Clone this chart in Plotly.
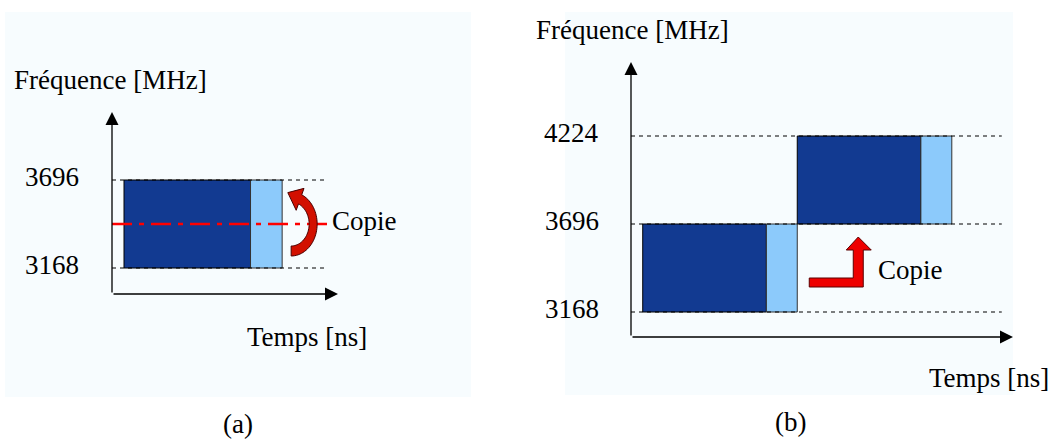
import math
import plotly.graph_objects as go

W, H = 1053, 440

# ---------------- data ----------------
freq_a = [3168, 3696]            # band of panel (a)
freq_b = [3168, 3696, 4224]      # bands of panel (b)
tick_a = ["3168", "3696"]
tick_b = ["3168", "3696", "4224"]
symbol_ns = 242.4                # OFDM symbol (dark block)
copy_ns = 60.6                   # copied part (light block)
start_ns = 23.0                  # start of first symbol
n_symbols_b = 2
y_title = "Fréquence [MHz]"
x_title = "Temps [ns]"
copy_label = "Copie"
panel_labels = ["(a)", "(b)"]

# ---------------- layout geometry ----------------
xr_a, yr_a = [0, 433], [3012, 4104]
xr_b, yr_b = [0, 749], [3018, 4668]
dom_xa, dom_ya = [112 / W, 338 / W], [1 - 294 / H, 1 - 112 / H]
dom_xb, dom_yb = [631 / W, 1013 / W], [1 - 337 / H, 1 - 62 / H]
dash_end_a, dash_end_b = 412, 727

DARK = "#123a91"
LIGHT = "#8ccafb"
BG = "#f7fcfe"
FONT = dict(family="Liberation Serif", size=27, color="#000000")


def d2p(x, y, dx, dy, xr, yr):
    px = (dx[0] + (x - xr[0]) / (xr[1] - xr[0]) * (dx[1] - dx[0])) * W
    py = (1 - (dy[0] + (y - yr[0]) / (yr[1] - yr[0]) * (dy[1] - dy[0]))) * H
    return px, py


def p2d(px, py, dx, dy, xr, yr):
    x = xr[0] + ((px / W) - dx[0]) / (dx[1] - dx[0]) * (xr[1] - xr[0])
    y = yr[0] + ((1 - py / H) - dy[0]) / (dy[1] - dy[0]) * (yr[1] - yr[0])
    return x, y


fig = go.Figure()
shapes = []
annotations = []

# panel backgrounds
for x0, x1, y0, y1 in [(5, 471, 12, 397), (565, 1013, 12, 395)]:
    shapes.append(dict(type="rect", xref="paper", yref="paper", layer="below",
                       x0=x0 / W, x1=x1 / W, y0=1 - y1 / H, y1=1 - y0 / H,
                       fillcolor=BG, line=dict(width=0)))

# ---------------- panel (a) ----------------
for f in freq_a:
    fig.add_trace(go.Scatter(x=[0, dash_end_a], y=[f, f], mode="lines", xaxis="x", yaxis="y",
                             line=dict(color="black", width=1, dash="4px,4px"),
                             hoverinfo="skip", showlegend=False))
x0 = start_ns
shapes.append(dict(type="rect", xref="x", yref="y", layer="below", x0=x0, x1=x0 + symbol_ns,
                   y0=freq_a[0], y1=freq_a[1], fillcolor=DARK, line=dict(color="black", width=1)))
shapes.append(dict(type="rect", xref="x", yref="y", layer="below", x0=x0 + symbol_ns,
                   x1=x0 + symbol_ns + copy_ns,
                   y0=freq_a[0], y1=freq_a[1], fillcolor=LIGHT, line=dict(color="#333333", width=1)))
fmid = (freq_a[0] + freq_a[1]) / 2
fig.add_trace(go.Scatter(x=[0, dash_end_a], y=[fmid, fmid], mode="lines", xaxis="x", yaxis="y",
                         line=dict(color="#ff0000", width=2.4, dash="20px,7px,5px,7px"),
                         hoverinfo="skip", showlegend=False))

# curved arrow (a)
cxp, cyp = d2p(x0 + symbol_ns + copy_ns, fmid, dom_xa, dom_ya, xr_a, yr_a)
cxp += 9
rxo, ryo, rxi, ryi = 26, 32, 18, 22
th_end = 66
outer = []
inner = []
for k in range(0, 41):
    th = math.radians(-90 + (th_end + 90) * k / 40)
    outer.append((cxp + rxo * math.cos(th), cyp - ryo * math.sin(th)))
    inner.append((cxp + rxi * math.cos(th), cyp - ryi * math.sin(th)))
oe, ie = outer[-1], inner[-1]
vx, vy = oe[0] - ie[0], oe[1] - ie[1]
hc_o = (oe[0] + 0.7 * vx, oe[1] + 0.7 * vy)
hc_i = (ie[0] - 0.7 * vx, ie[1] - 0.7 * vy)
th = math.radians(th_end)
tx, ty = -(rxo + rxi) / 2 * math.sin(th), -(ryo + ryi) / 2 * math.cos(th)
tn = math.hypot(tx, ty)
mid = ((oe[0] + ie[0]) / 2, (oe[1] + ie[1]) / 2)
tip = (mid[0] + 14 * tx / tn, mid[1] + 14 * ty / tn)
pts = outer + [hc_o, tip, hc_i] + inner[::-1]
dpts = [p2d(px, py, dom_xa, dom_ya, xr_a, yr_a) for px, py in pts]
path = "M " + " L ".join(f"{x:.3f},{y:.3f}" for x, y in dpts) + " Z"
shapes.append(dict(type="path", xref="x", yref="y", path=path, fillcolor="#d21000",
                   line=dict(color="#4a0000", width=1)))

# axes (a)
ARW = dict(text="", showarrow=True, arrowhead=2, arrowsize=2.0, arrowwidth=1.3, arrowcolor="black")
annotations.append(dict(x=xr_a[1], y=yr_a[0], ax=0, ay=yr_a[0], xref="x", yref="y", axref="x", ayref="y", **ARW))
annotations.append(dict(x=0, y=yr_a[1], ax=0, ay=yr_a[0], xref="x", yref="y", axref="x", ayref="y", **ARW))
for f, t in zip(freq_a, tick_a):
    annotations.append(dict(x=81 / W, y=f, xref="paper", yref="y", text=t, showarrow=False,
                            xanchor="right", yanchor="middle", yshift=3, font=FONT))
annotations.append(dict(x=12 / W, y=1 - 80 / H, xref="paper", yref="paper", text=y_title, showarrow=False,
                        xanchor="left", yanchor="middle", font=FONT))
annotations.append(dict(x=245 / W, y=1 - 337 / H, xref="paper", yref="paper", text=x_title, showarrow=False,
                        xanchor="left", yanchor="middle", font=FONT))
annotations.append(dict(x=330 / W, y=fmid, xref="paper", yref="y", text=copy_label, showarrow=False,
                        xanchor="left", yanchor="middle", yshift=3, font=FONT))
annotations.append(dict(x=238 / W, y=1 - 424 / H, xref="paper", yref="paper", text=panel_labels[0],
                        showarrow=False, xanchor="center", yanchor="middle", font=FONT))

# ---------------- panel (b) ----------------
for f in freq_b:
    fig.add_trace(go.Scatter(x=[0, dash_end_b], y=[f, f], mode="lines", xaxis="x2", yaxis="y2",
                             line=dict(color="black", width=1, dash="4px,4px"),
                             hoverinfo="skip", showlegend=False))
for i in range(n_symbols_b):
    xs = start_ns + i * (symbol_ns + copy_ns)
    shapes.append(dict(type="rect", xref="x2", yref="y2", layer="below", x0=xs, x1=xs + symbol_ns,
                       y0=freq_b[i], y1=freq_b[i + 1], fillcolor=DARK, line=dict(color="black", width=1)))
    shapes.append(dict(type="rect", xref="x2", yref="y2", layer="below", x0=xs + symbol_ns,
                       x1=xs + symbol_ns + copy_ns,
                       y0=freq_b[i], y1=freq_b[i + 1], fillcolor=LIGHT, line=dict(color="#333333", width=1)))

# L-shaped arrow (b)
axp, ayp = d2p(start_ns + symbol_ns + copy_ns, freq_b[0], dom_xb, dom_yb, xr_b, yr_b)
ox, oy = axp + 12, ayp - 25
lpts = [(ox, oy - 9), (ox + 44, oy - 9), (ox + 44, oy - 37), (ox + 37, oy - 37), (ox + 49, oy - 50),
        (ox + 62, oy - 37), (ox + 54, oy - 37), (ox + 54, oy), (ox, oy)]
dl = [p2d(px, py, dom_xb, dom_yb, xr_b, yr_b) for px, py in lpts]
lpath = "M " + " L ".join(f"{x:.3f},{y:.3f}" for x, y in dl) + " Z"
shapes.append(dict(type="path", xref="x2", yref="y2", path=lpath, fillcolor="#ee0000",
                   line=dict(color="#5a0000", width=1)))
annotations.append(dict(x=(ox + 67) / W, y=1 - (oy - 17) / H, xref="paper", yref="paper", text=copy_label,
                        showarrow=False, xanchor="left", yanchor="middle", font=FONT))

annotations.append(dict(x=xr_b[1], y=yr_b[0], ax=0, ay=yr_b[0], xref="x2", yref="y2", axref="x2", ayref="y2",
                        **ARW))
annotations.append(dict(x=0, y=yr_b[1], ax=0, ay=yr_b[0], xref="x2", yref="y2", axref="x2", ayref="y2",
                        **ARW))
for f, t in zip(freq_b, tick_b):
    annotations.append(dict(x=601 / W, y=f, xref="paper", yref="y2", text=t, showarrow=False,
                            xanchor="right", yanchor="middle", yshift=3, font=FONT))
annotations.append(dict(x=534 / W, y=1 - 30 / H, xref="paper", yref="paper", text=y_title, showarrow=False,
                        xanchor="left", yanchor="middle", font=FONT))
annotations.append(dict(x=1051 / W, y=1 - 378 / H, xref="paper", yref="paper", text=x_title, showarrow=False,
                        xanchor="right", yanchor="middle", font=FONT))
annotations.append(dict(x=790 / W, y=1 - 422 / H, xref="paper", yref="paper", text=panel_labels[1],
                        showarrow=False, xanchor="center", yanchor="middle", font=FONT))

ax_common = dict(visible=False, fixedrange=True)
fig.update_layout(
    width=W, height=H, margin=dict(l=0, r=0, t=0, b=0),
    paper_bgcolor="white", plot_bgcolor="rgba(0,0,0,0)",
    showlegend=False, shapes=shapes, annotations=annotations,
    xaxis=dict(domain=dom_xa, range=xr_a, anchor="y", **ax_common),
    yaxis=dict(domain=dom_ya, range=yr_a, anchor="x", **ax_common),
    xaxis2=dict(domain=dom_xb, range=xr_b, anchor="y2", **ax_common),
    yaxis2=dict(domain=dom_yb, range=yr_b, anchor="x2", **ax_common),
)

fig.write_html("out.html", config={"displayModeBar": False},
               post_script="document.body.style.margin='0';document.body.style.overflow='hidden';")
